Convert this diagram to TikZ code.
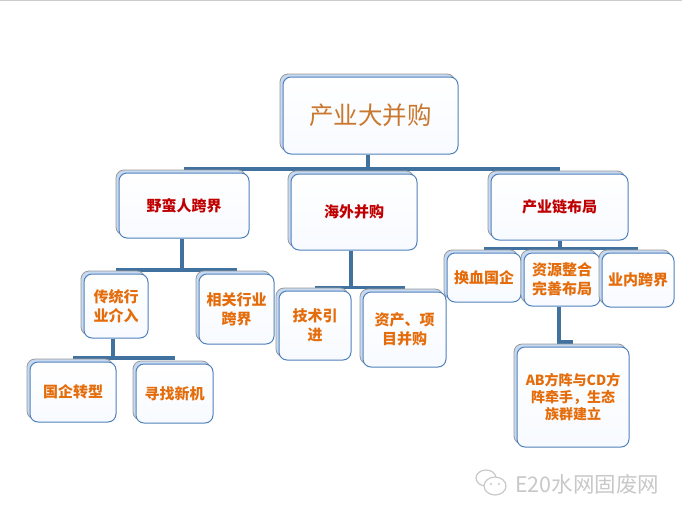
\documentclass[tikz,border=0pt]{standalone}
\usepackage{fontspec}
\setmainfont{Noto Sans CJK SC}
\usetikzlibrary{shadows,backgrounds,positioning}
\definecolor{cardedge}{HTML}{4F81BD}
\definecolor{cardback}{HTML}{C6D9F1}
\definecolor{cardfill}{HTML}{F7FAFF}
\definecolor{linkblue}{HTML}{41719F}
\definecolor{headred}{HTML}{C00000}
\definecolor{leaforange}{HTML}{E46C0A}
\definecolor{rootorange}{HTML}{C9782E}
\definecolor{markgrey}{HTML}{C8C8C8}
\tikzset{
  card/.style={draw=cardedge,line width=1pt,rounded corners=8pt,top color=white,bottom color=cardfill,
    inner sep=0pt,align=center,
    copy shadow={shadow xshift=-3pt,shadow yshift=3pt,draw=gray!80,fill=cardback,line width=0.8pt}},
  headcard/.style={card,text=headred,font=\fontsize{15}{18}\selectfont\bfseries},
  leafcard/.style={card,text=leaforange,font=\fontsize{15}{19}\selectfont\bfseries},
  link/.style={draw=linkblue,line width=3.6pt},
  watermark/.style={text=markgrey,font=\fontsize{21.5}{22}\selectfont},
}
\begin{document}
\begin{tikzpicture}[x=1pt,y=-1pt]
        \useasboundingbox (0,0) rectangle (682,517);
        \draw[gray!40,line width=0.8pt] (0,0.4)--(682,0.4);
        % top level
        \node[card,minimum width=175pt,minimum height=77pt,text=rootorange,font=\fontsize{24.5}{28}\selectfont] (root) at (370.5,115.5) {产业大并购};
        \node[headcard,minimum width=130pt,minimum height=65pt] (yeman) at (184,205.5) {野蛮人跨界};
        \node[headcard,minimum width=126pt,minimum height=76pt] (haiwai) at (354,212) {海外并购};
        \node[headcard,minimum width=137pt,minimum height=66pt] (chain) at (559.5,207) {产业链布局};
        % left branch
        \node[leafcard,minimum width=64pt,minimum height=64pt] (chuantong) at (116,306) {传统行\\业介入};
        \node[leafcard,minimum width=75pt,minimum height=70pt] (xiangguan) at (236.5,309) {相关行业\\跨界};
        \node[leafcard,minimum width=86pt,minimum height=60pt] (guoqi) at (73,392) {国企转型};
        \node[leafcard,minimum width=77pt,minimum height=59pt] (xunzhao) at (174.5,393.5) {寻找新机};
        % middle branch
        \node[leafcard,minimum width=72pt,minimum height=69pt] (jishu) at (315,325.5) {技术引\\进};
        \node[leafcard,minimum width=83pt,minimum height=75pt] (zichan) at (404.5,329.5) {资产、项\\目并购};
        % right branch
        \node[leafcard,minimum width=74pt,minimum height=49pt] (huanxue) at (484,277.5) {换血国企};
        \node[leafcard,minimum width=76pt,minimum height=53pt] (ziyuan) at (562,279.5) {资源整合\\完善布局};
        \node[leafcard,minimum width=72pt,minimum height=54pt] (yenei) at (638,280) {业内跨界};
        \node[card,text=leaforange,font=\fontsize{14}{17}\selectfont\bfseries,minimum width=112pt,minimum height=100pt] (abcd) at (573,397) {AB方阵与CD方\\阵牵手，生态\\族群建立};
        % where the stems meet the bars
        \coordinate (rootbus) at (368,169);
        \coordinate (yemanbus) at (182,270);
        \coordinate (chuantongbus) at (113,358);
        \coordinate (haiwaibus) at (351,287.5);
        \coordinate (chainbus) at (560,248.5);
        \coordinate (ziyuanbus) at (559,342);
        % connectors stay behind the cards
        \begin{scope}[on background layer]
          \draw[link] (rootbus |- root.south) -- (rootbus);
          \draw[link] (rootbus -| yeman.north) -- (rootbus -| chain.north);
          \draw[link] (yemanbus |- yeman.south) -- (yemanbus);
          \draw[link] (yemanbus -| chuantong.north) -- (yemanbus -| xiangguan.north);
          \draw[link] (chuantongbus |- chuantong.south) -- (chuantongbus);
          \draw[link] (chuantongbus -| guoqi.north) -- (chuantongbus -| xunzhao.north);
          \draw[link] (haiwaibus |- haiwai.south) -- (haiwaibus);
          \draw[link] (haiwaibus -| jishu.north) -- (haiwaibus -| zichan.north);
          \draw[link] (chainbus |- chain.south) -- (chainbus);
          \draw[link] (chainbus -| huanxue.north) -- (chainbus -| yenei.north);
          \draw[link] (ziyuanbus |- ziyuan.south) -- (ziyuanbus) -- (ziyuanbus -| abcd.north);
        \end{scope}
        % watermark
        \draw[markgrey,line width=1.2pt] (486,478) ellipse (10pt and 8pt);
        \draw[markgrey,line width=1.2pt,fill=white] (495,486) ellipse (11pt and 9pt);
        \fill[markgrey] (491,484) circle (1.2pt) (499,484) circle (1.2pt);
        \node[watermark,anchor=west,inner sep=0pt] (mark) at (515,484) {E20水网固废网};
      \end{tikzpicture}
\end{document}
